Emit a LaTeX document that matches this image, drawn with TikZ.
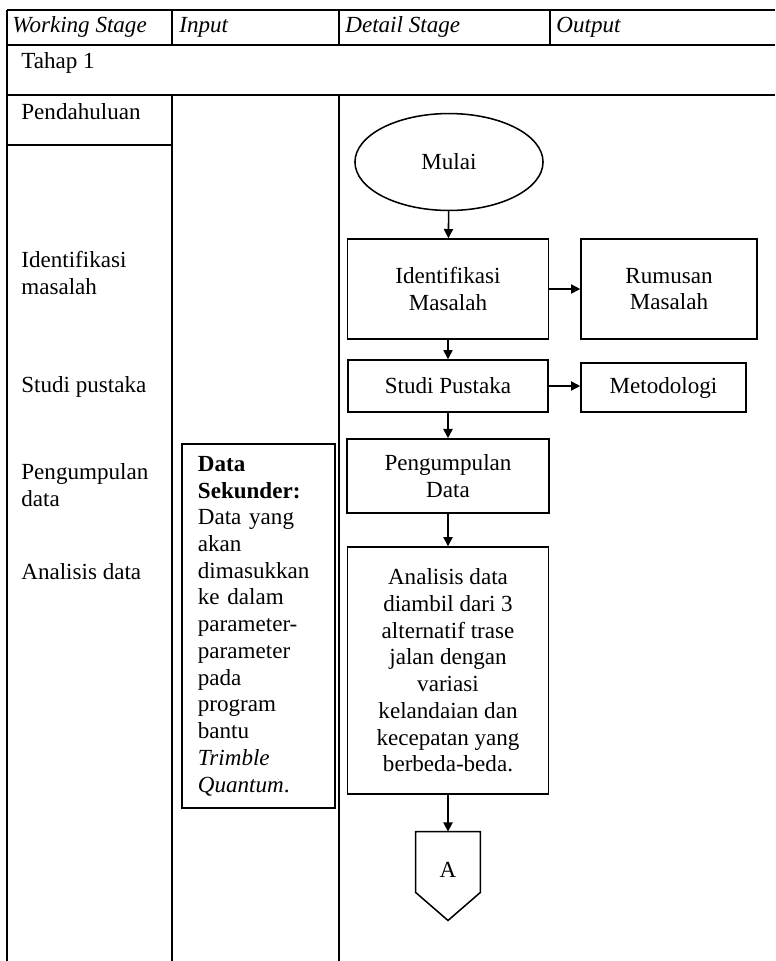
\documentclass[tikz,border=0pt]{standalone}
\usepackage{fontspec}
\setmainfont{Liberation Serif}
\usetikzlibrary{shapes,positioning,arrows.meta}
\tikzset{cell/.style={inner sep=0pt,anchor=west,align=left},
  head/.style={cell,font=\fontsize{12}{13.9}\selectfont\itshape},
  proc/.style={rectangle,draw,line width=0.8pt,align=center,inner sep=0pt},
  term/.style={ellipse,draw,line width=0.8pt,inner sep=0pt},
  rule/.style={line width=0.8pt}}

\begin{document}
\begin{tikzpicture}[>={Triangle[length=4.8pt,width=4.8pt]},x=0.52pt,y=-0.52pt,font=\fontsize{12}{13.9}\selectfont]
        \useasboundingbox (0,0) rectangle (775,961);

        % table lines
        \draw[rule] (7,10) -- (775,10);
        \draw[rule] (7,45) -- (775,45);
        \draw[rule] (7,95) -- (775,95);
        \draw[rule] (7,145) -- (172,145);
        \draw[rule] (7,10) -- (7,961);
        \draw[rule] (172,10) -- (172,45);
        \draw[rule] (339,10) -- (339,45);
        \draw[rule] (550,10) -- (550,45);
        \draw[rule] (172,95) -- (172,961);
        \draw[rule] (339,95) -- (339,961);

        % header and left column
        \node[head] (hwork) at (12,27) {Working Stage};
        \node[head] (hinput) at (179,27) {Input};
        \node[head] (hdetail) at (345,27) {Detail Stage};
        \node[head] (houtput) at (556,27) {Output};
        \node[cell] (tahap) at (21,63) {Tahap 1};
        \node[cell] (pend) at (21,112) {Pendahuluan};
        \node[cell] (lident) at (21,273) {Identifikasi\\masalah};
        \node[cell] (lstudi) at (21,387) {Studi pustaka};
        \node[cell] (lpeng) at (21,485) {Pengumpulan\\data};
        \node[cell] (lanal) at (21,572) {Analisis data};

        % input
        \node[rectangle,draw,line width=0.8pt,align=left,inner xsep=8.3pt,inner ysep=0pt,
              text width=63pt,minimum height=189.3pt] (datasek) at (258.5,626)
              {\textbf{Data}\\\textbf{Sekunder:}\\Data yang\\akan\\dimasukkan\\ke dalam\\parameter-\\parameter\\pada\\program\\bantu\\\textit{Trimble}\\\textit{Quantum}.};

        % flow
        \node[term,minimum width=97.8pt,minimum height=50.4pt] (mulai) at (449,162) {Mulai};
        \node[proc,minimum width=104.5pt,minimum height=52pt] (ident) at (448,289) {Identifikasi\\Masalah};
        \node[proc,minimum width=91.5pt,minimum height=52pt] (rumusan) at (669,289) {Rumusan\\Masalah};
        \node[proc,minimum width=104pt,minimum height=27pt] (studi) at (448,386) {Studi Pustaka};
        \node[proc,minimum width=85.8pt,minimum height=25.5pt] (metod) at (663.5,387.5) {Metodologi};
        \node[proc,minimum width=105pt,minimum height=38.5pt] (peng) at (448,476) {Pengumpulan\\Data};
        \node[proc,minimum width=104.5pt,minimum height=128.4pt] (anal) at (448,670.5)
              {Analisis data\\diambil dari 3\\alternatif trase\\jalan dengan\\variasi\\kelandaian dan\\kecepatan yang\\berbeda-beda.};
        \node[inner sep=0pt,minimum width=33.3pt,minimum height=31.2pt,
              text height=16.3pt,text depth=0pt] (conA) at (448,862) {A};
        \draw[rule] (conA.north west) -- (conA.north east) -- (conA.south east)
              -- ([yshift=-14.6pt]conA.south) -- (conA.south west) -- cycle;

        \draw [->,rule] (mulai) to (ident);
        \draw [->,rule] (ident) to (rumusan);
        \draw [->,rule] (ident) to (studi);
        \draw [->,rule] (studi.east) to (studi.east -| metod.west);
        \draw [->,rule] (studi) to (peng);
        \draw [->,rule] (peng) to (anal);
        \draw [->,rule] (anal) to (conA);
    \end{tikzpicture}
\end{document}
